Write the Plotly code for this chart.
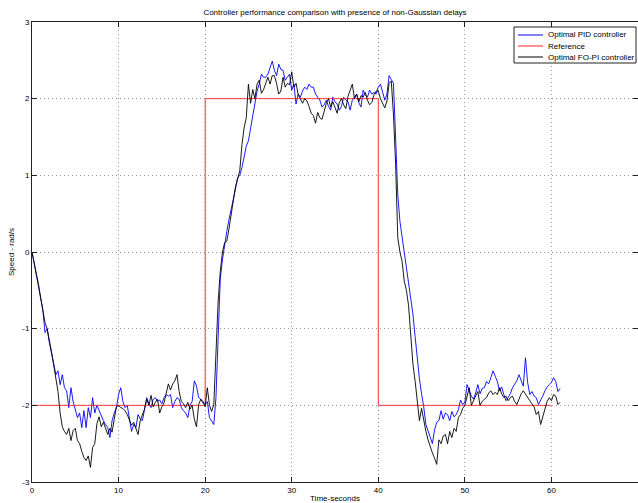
import plotly.graph_objects as go

# sampling step of the recorded responses (seconds)
dt = 0.25

# Optimal PID controller response (rad/s), one row per second
pid = [
    0.0, -0.14, -0.30, -0.45,
    -0.58, -0.75, -1.05, -1.00,
    -1.18, -1.30, -1.45, -1.60,
    -1.55, -1.73, -1.60, -1.77,
    -1.81, -2.03, -1.77, -1.95,
    -2.07, -2.16, -2.10, -2.29,
    -2.07, -2.29, -2.03, -2.16,
    -1.90, -2.10, -2.00, -2.07,
    -2.12, -2.20, -2.25, -2.29,
    -2.42, -2.20, -2.10, -2.03,
    -1.86, -1.77, -1.95, -2.03,
    -2.00, -2.20, -2.34, -2.25,
    -2.29, -2.12, -2.18, -2.20,
    -2.03, -1.90, -1.98, -2.03,
    -1.92, -1.90, -1.95, -1.93,
    -1.98, -1.90, -1.86, -1.88,
    -1.86, -2.03, -1.95, -1.90,
    -1.92, -2.03, -2.07, -2.10,
    -2.16, -2.00, -1.95, -1.68,
    -1.75, -1.90, -1.92, -1.97,
    -1.99, -1.95, -2.16, -2.20,
    -2.25, -1.90, -1.20, -0.35,
    -0.10, 0.12, 0.27, 0.42,
    0.54, 0.67, 0.82, 0.97,
    1.00, 1.10, 1.23, 1.38,
    1.45, 1.60, 1.80, 1.93,
    2.10, 2.19, 2.32, 2.28,
    2.28, 2.32, 2.40, 2.49,
    2.37, 2.30, 2.45, 2.38,
    2.37, 2.24, 2.28, 2.32,
    2.11, 2.19, 1.93, 2.06,
    2.02, 2.10, 2.15, 2.12,
    2.19, 2.15, 2.15, 2.06,
    2.02, 1.98, 1.89, 1.92,
    1.98, 1.90, 1.85, 2.02,
    1.96, 1.93, 1.85, 1.90,
    2.02, 1.98, 1.96, 1.85,
    1.98, 2.02, 2.06, 1.95,
    1.89, 2.11, 2.05, 2.02,
    2.11, 2.06, 2.08, 2.06,
    2.15, 2.19, 2.10, 1.98,
    2.06, 2.30, 2.25, 2.20,
    1.50, 0.75, 0.40, 0.20,
    0.00, -0.20, -0.40, -0.60,
    -0.81, -1.10, -1.42, -1.65,
    -1.85, -2.02, -2.25, -2.34,
    -2.42, -2.50, -2.32, -2.22,
    -2.20, -2.07, -2.18, -2.10,
    -2.12, -2.20, -2.08, -2.15,
    -2.12, -2.06, -1.93, -1.99,
    -1.96, -1.73, -1.80, -1.88,
    -1.92, -1.84, -1.73, -1.85,
    -1.78, -1.77, -1.69, -1.72,
    -1.64, -1.55, -1.62, -1.69,
    -1.81, -1.76, -1.86, -1.94,
    -1.90, -1.85, -1.77, -1.72,
    -1.68, -1.60, -1.68, -1.75,
    -1.38, -1.70, -1.86, -1.82,
    -1.88, -1.90, -1.99, -1.94,
    -1.88, -1.81, -1.76, -1.73,
    -1.70, -1.64, -1.69, -1.82,
    -1.78,
]

# Optimal FO-PI controller response (rad/s), one row per second
fopi = [
    0.0, -0.13, -0.27, -0.42,
    -0.60, -0.74, -0.92, -1.00,
    -1.18, -1.30, -1.47, -1.62,
    -1.82, -2.10, -2.28, -2.34,
    -2.38, -2.30, -2.46, -2.33,
    -2.30, -2.46, -2.50, -2.60,
    -2.68, -2.72, -2.66, -2.81,
    -2.55, -2.50, -2.24, -2.15,
    -2.28, -2.22, -2.30, -2.38,
    -2.30, -2.35, -2.18, -2.02,
    -2.00, -2.03, -2.04, -2.07,
    -2.12, -2.20, -2.26, -2.22,
    -2.30, -2.38, -2.20, -2.13,
    -2.05, -1.92, -2.00, -1.87,
    -2.02, -1.96, -1.92, -2.10,
    -2.02, -1.97, -1.86, -1.72,
    -1.80, -1.72, -1.68, -1.60,
    -1.82, -1.95, -1.98, -2.03,
    -1.96, -2.05, -2.00, -2.18,
    -2.28, -1.99, -1.92, -1.95,
    -2.02, -1.77, -2.00, -2.08,
    -1.99, -1.25, -0.65, -0.25,
    0.00, 0.12, 0.14, 0.30,
    0.49, 0.67, 0.85, 0.95,
    1.06, 1.40, 1.62, 1.75,
    2.19, 1.94, 2.12, 2.00,
    2.19, 2.24, 2.07, 2.12,
    2.19, 2.28, 2.19, 2.30,
    2.30, 2.20, 2.06, 2.10,
    2.28, 2.15, 2.20, 2.18,
    2.35, 2.15, 2.20, 2.05,
    2.00, 1.94, 2.00, 1.97,
    1.90, 1.81, 1.78, 1.68,
    1.82, 1.75, 1.73, 1.85,
    1.94, 2.00, 1.89, 1.96,
    1.88, 1.81, 1.95, 2.00,
    1.92, 1.87, 2.03, 2.10,
    2.19, 2.00, 2.06, 1.96,
    2.04, 2.02, 2.08, 1.98,
    1.92, 1.95, 2.05, 2.10,
    2.10, 2.00, 1.94, 1.88,
    1.97, 2.20, 2.23, 1.80,
    1.15, 0.19, 0.00, -0.12,
    -0.38, -0.50, -0.70, -1.15,
    -1.46, -1.68, -1.93, -2.20,
    -2.04, -2.20, -2.34, -2.45,
    -2.55, -2.62, -2.69, -2.77,
    -2.45, -2.50, -2.40, -2.38,
    -2.50, -2.34, -2.42, -2.30,
    -2.34, -2.16, -2.12, -2.04,
    -2.00, -1.90, -1.77, -2.00,
    -1.94, -1.86, -1.82, -2.00,
    -1.95, -1.92, -1.90, -1.84,
    -1.81, -1.86, -1.83, -1.86,
    -1.77, -1.85, -1.90, -1.88,
    -1.94, -1.90, -1.88, -1.95,
    -1.99, -1.92, -1.85, -1.81,
    -1.86, -1.90, -1.94, -1.98,
    -2.02, -2.12, -2.08, -2.25,
    -2.15, -2.03, -1.95, -1.90,
    -1.94, -1.86, -1.88, -1.99,
    -1.96,
]

time_s = [round(i * dt, 2) for i in range(len(pid))]

# reference speed step profile
ref_t = [0, 20, 20, 40, 40, 60]
ref_v = [-2, -2, 2, 2, -2, -2]

x_ticks = [0, 10, 20, 30, 40, 50, 60, 70]
y_ticks = [-3, -2, -1, 0, 1, 2, 3]

series_names = ["Optimal PID controller", "Reference", "Optimal FO-PI controller"]
series_colors = ["#0000ff", "#ff2020", "#000000"]

FONT = "Liberation Sans, Arial, sans-serif"
W, H = 638, 503
ML, MR, MT, MB = 32, 0, 22, 21
PW, PH = W - ML - MR, H - MT - MB

fig = go.Figure()
fig.add_trace(go.Scatter(x=time_s, y=pid, mode="lines", name=series_names[0],
                         line=dict(color=series_colors[0], width=0.9)))
fig.add_trace(go.Scatter(x=ref_t, y=ref_v, mode="lines", name=series_names[1],
                         line=dict(color=series_colors[1], width=0.9)))
fig.add_trace(go.Scatter(x=time_s[:len(fopi)], y=fopi, mode="lines", name=series_names[2],
                         line=dict(color=series_colors[2], width=0.9)))

axis_common = dict(
    showline=True, linecolor="#222222", linewidth=1, mirror="ticks",
    ticks="inside", ticklen=5, tickcolor="#222222", tickwidth=1,
    showgrid=True, gridcolor="#999999", gridwidth=1, griddash="1px,3px",
    zeroline=False, tickfont=dict(family=FONT, size=8, color="#000000"),
)

fig.update_xaxes(range=[0, 70], tickvals=x_ticks, ticktext=[str(v) for v in x_ticks],
                 title=dict(text="Time-seconds", font=dict(family=FONT, size=8, color="#000"), standoff=2),
                 **axis_common)
fig.update_yaxes(range=[-3, 3], tickvals=y_ticks, ticktext=[str(v) for v in y_ticks],
                 title=dict(text="Speed - rad/s", font=dict(family=FONT, size=8, color="#000"), standoff=6),
                 **axis_common)

# compact MATLAB-style legend box (pixel layout converted to paper coordinates)
def px_x(p):
    return (p - ML) / PW

def px_y(p):
    return 1 - (p - MT) / PH

box_l, box_r, box_t, box_b = 514, 636, 27, 63
row_y = [35, 46, 57]
line_l, line_r, text_l = 518, 543, 546

shapes = [dict(type="rect", xref="paper", yref="paper",
               x0=px_x(box_l), x1=px_x(box_r), y0=px_y(box_b), y1=px_y(box_t),
               line=dict(color="#222222", width=1), fillcolor="white", layer="above")]
annotations = []
for name, col, ry in zip(series_names, series_colors, row_y):
    shapes.append(dict(type="line", xref="paper", yref="paper",
                       x0=px_x(line_l), x1=px_x(line_r), y0=px_y(ry), y1=px_y(ry),
                       line=dict(color=col, width=1), layer="above"))
    annotations.append(dict(text=name, xref="paper", yref="paper", x=px_x(text_l), y=px_y(ry),
                            xanchor="left", yanchor="middle", showarrow=False,
                            font=dict(family=FONT, size=8, color="#000")))

fig.update_layout(
    width=W, height=H,
    margin=dict(l=ML, r=MR, t=MT, b=MB, autoexpand=False),
    paper_bgcolor="white", plot_bgcolor="white",
    font=dict(family=FONT, size=8, color="#000"),
    title=dict(text="Controller performance comparison with presence of non-Gaussian delays",
               x=0.5, xref="paper", y=1 - 12 / H, yref="container", yanchor="middle",
               font=dict(family=FONT, size=8, color="#000")),
    showlegend=False,
    shapes=shapes,
    annotations=annotations,
)

fig.write_html("out.html")
